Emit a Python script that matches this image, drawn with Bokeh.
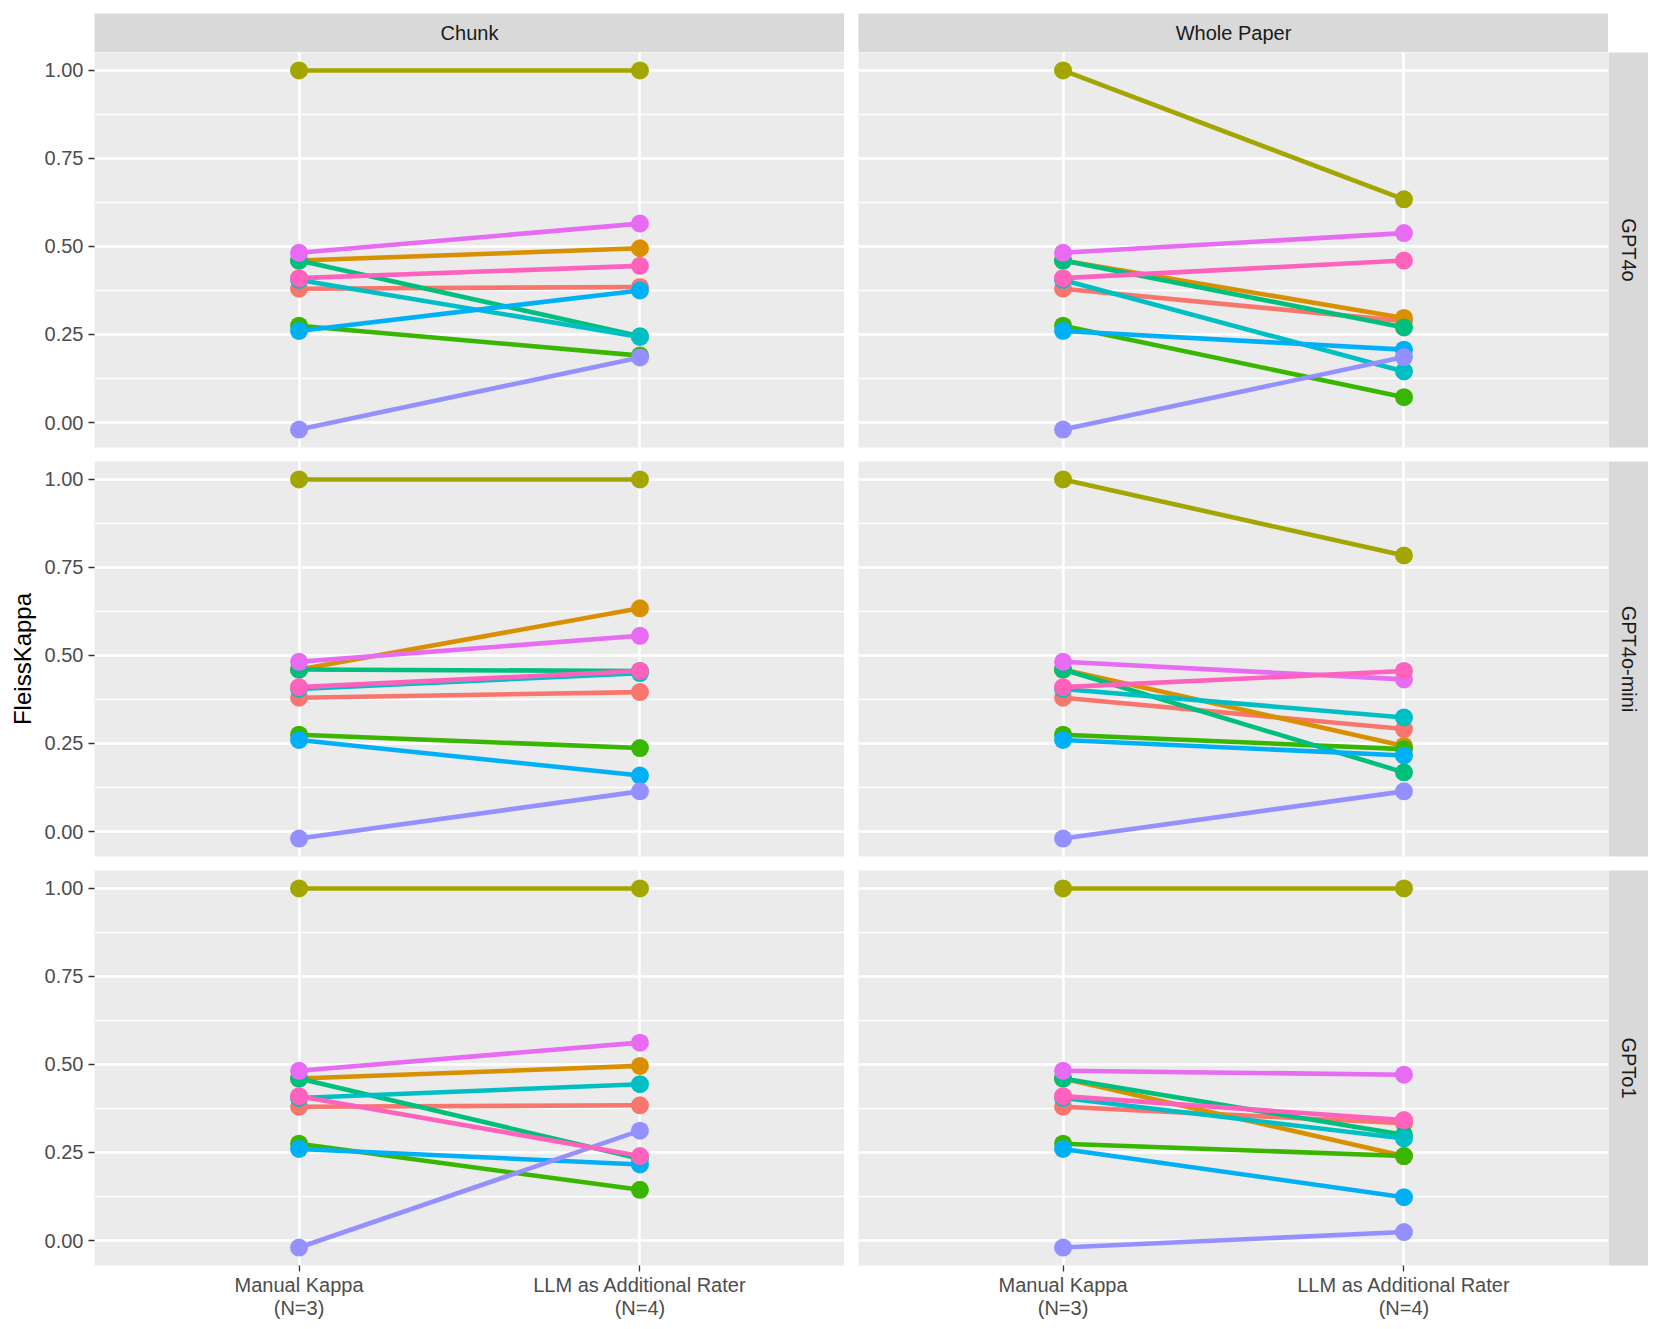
import math
from bokeh.plotting import figure
from bokeh.layouts import row, column
from bokeh.models import (Range1d, FactorRange, FixedTicker, NumeralTickFormatter,
                          ColumnDataSource)
from bokeh.core.properties import value
from bokeh.embed import file_html
from bokeh.resources import INLINE

# ---------------- data ----------------
conditions = ["Manual Kappa\n(N=3)", "LLM as Additional Rater\n(N=4)"]
scopes = ["Chunk", "Whole Paper"]
models = ["GPT4o", "GPT4o-mini", "GPTo1"]
codes = ["Code 1", "Code 2", "Code 3", "Code 4", "Code 5",
         "Code 6", "Code 7", "Code 8", "Code 9", "Code 10"]
colors = ["#F8766D", "#D89000", "#A3A500", "#39B600", "#00BF7D",
          "#00BFC4", "#00B0F6", "#9590FF", "#E76BF3", "#FF62BC"]

manual_kappa = [0.38, 0.46, 1.00, 0.275, 0.46, 0.405, 0.26, -0.02, 0.482, 0.41]

chunk_gpt4o = [0.385, 0.495, 1.00, 0.19, 0.245, 0.243, 0.375, 0.185, 0.565, 0.445]
whole_gpt4o = [0.288, 0.297, 0.634, 0.072, 0.27, 0.145, 0.207, 0.186, 0.538, 0.46]
chunk_gpt4o_mini = [0.396, 0.634, 1.00, 0.237, 0.456, 0.45, 0.159, 0.114, 0.556, 0.456]
whole_gpt4o_mini = [0.291, 0.243, 0.784, 0.234, 0.168, 0.324, 0.216, 0.114, 0.432, 0.456]
chunk_gpto1 = [0.384, 0.496, 1.00, 0.144, 0.232, 0.444, 0.216, 0.312, 0.562, 0.24]
whole_gpto1 = [0.333, 0.24, 1.00, 0.24, 0.30, 0.29, 0.123, 0.024, 0.471, 0.342]

llm_values = {
    ("GPT4o", "Chunk"): chunk_gpt4o,
    ("GPT4o", "Whole Paper"): whole_gpt4o,
    ("GPT4o-mini", "Chunk"): chunk_gpt4o_mini,
    ("GPT4o-mini", "Whole Paper"): whole_gpt4o_mini,
    ("GPTo1", "Chunk"): chunk_gpto1,
    ("GPTo1", "Whole Paper"): whole_gpto1,
}

y_title = "FleissKappa"
y_ticks = [0.0, 0.25, 0.5, 0.75, 1.0]
y_minor = [0.125, 0.375, 0.625, 0.875]

# ---------------- style / geometry ----------------
FONT = "Liberation Sans"
PANEL_BG = "#EBEBEB"
STRIP_BG = "#D9D9D9"
FW, FH = 750, 395
GAP = 14
LABEL_W = 40
LEFT = 94 - LABEL_W
STRIP_W = 40
STRIP_H = 39
TOP_PAD = 13
BOTTOM = 52
TOTAL_H = TOP_PAD + STRIP_H + 3 * FH + 2 * GAP + BOTTOM
PANELS_CENTER = TOP_PAD + STRIP_H + (3 * FH + 2 * GAP) / 2

all_y = manual_kappa + [v for vals in llm_values.values() for v in vals]
ymin, ymax = min(all_y), max(all_y)
pad = (ymax - ymin) * 0.05
Y0, Y1 = ymin - pad, ymax + pad


def make_panel(model, scope, ri, ci):
    left = ci == 0
    bottom = ri == len(models) - 1
    p = figure(frame_width=FW, frame_height=FH,
               x_range=FactorRange(*conditions, range_padding=0.1,
                                   range_padding_units="absolute"),
               y_range=Range1d(Y0, Y1),
               output_backend="svg", toolbar_location=None,
               min_border_left=LEFT if left else GAP, min_border_right=0,
               min_border_top=0, min_border_bottom=BOTTOM if bottom else GAP)
    p.background_fill_color = PANEL_BG
    p.border_fill_color = "white"
    p.outline_line_color = None

    llm = llm_values[(model, scope)]
    src_l = ColumnDataSource(dict(
        xs=[[conditions[0], conditions[1]] for _ in codes],
        ys=[[m, l] for m, l in zip(manual_kappa, llm)],
        color=colors, code=codes))
    p.multi_line(xs="xs", ys="ys", line_color="color", line_width=4.6, source=src_l)
    src_p = ColumnDataSource(dict(
        x=[c for c in conditions for _ in codes],
        y=manual_kappa + llm,
        color=colors + colors,
        code=codes + codes))
    p.scatter(x="x", y="y", size=18, fill_color="color", line_color=None, source=src_p)

    p.xgrid.grid_line_color = "white"
    p.xgrid.grid_line_width = 2.6
    p.ygrid.grid_line_color = "white"
    p.ygrid.grid_line_width = 2.6
    p.ygrid.minor_grid_line_color = "white"
    p.ygrid.minor_grid_line_width = 1.3

    p.yaxis.ticker = FixedTicker(ticks=y_ticks, minor_ticks=y_minor)
    p.yaxis.formatter = NumeralTickFormatter(format="0.00")
    for ax in (p.xaxis[0], p.yaxis[0]):
        ax.axis_line_color = None
        ax.major_tick_line_color = "#333333"
        ax.major_tick_line_width = 1.3
        ax.major_tick_out = 6
        ax.major_tick_in = 0
        ax.minor_tick_out = 0
        ax.minor_tick_in = 0
        ax.major_label_text_font = FONT
        ax.major_label_text_font_size = "20px"
        ax.major_label_text_color = "#4D4D4D"
    p.yaxis.major_label_standoff = 5
    p.xaxis.major_label_standoff = 2
    p.xaxis.major_label_text_line_height = 1.05
    p.yaxis.visible = left
    p.xaxis.visible = bottom
    return p


def make_strip(label, w, h, ml, mt, mb, vertical=False):
    s = figure(frame_width=w, frame_height=h, x_range=Range1d(0, 1), y_range=Range1d(0, 1),
               output_backend="svg", toolbar_location=None,
               min_border_left=ml, min_border_right=0, min_border_top=mt, min_border_bottom=mb)
    s.background_fill_color = STRIP_BG
    s.border_fill_color = "white"
    s.outline_line_color = None
    s.axis.visible = False
    s.grid.visible = False
    s.text(x=[0.5], y=[0.5], text=[label], text_align="center", text_baseline="middle",
           angle=-math.pi / 2 if vertical else 0,
           text_font=value(FONT), text_font_size=value("20px"), text_color="#1A1A1A")
    return s


# y-axis title column
ylab = figure(frame_width=LABEL_W, frame_height=TOTAL_H,
              x_range=Range1d(0, LABEL_W), y_range=Range1d(0, TOTAL_H),
              output_backend="svg", toolbar_location=None,
              min_border_left=0, min_border_right=0, min_border_top=0, min_border_bottom=0)
ylab.background_fill_color = "white"
ylab.border_fill_color = "white"
ylab.outline_line_color = None
ylab.axis.visible = False
ylab.grid.visible = False
ylab.text(x=[22], y=[TOTAL_H - PANELS_CENTER], text=[y_title], angle=math.pi / 2,
          text_align="center", text_baseline="middle",
          text_font=value(FONT), text_font_size=value("24px"), text_color="black")

top = row(make_strip(scopes[0], FW, STRIP_H, LEFT, TOP_PAD, 0),
          make_strip(scopes[1], FW, STRIP_H, GAP, TOP_PAD, 0))
rows = [top]
for ri, model in enumerate(models):
    mb = BOTTOM if ri == len(models) - 1 else GAP
    panels = [make_panel(model, scope, ri, ci) for ci, scope in enumerate(scopes)]
    panels.append(make_strip(model, STRIP_W, FH, 0, 0, mb, vertical=True))
    rows.append(row(*panels))

layout = row(ylab, column(*rows))
open("out.html", "w").write(file_html(layout, INLINE))
